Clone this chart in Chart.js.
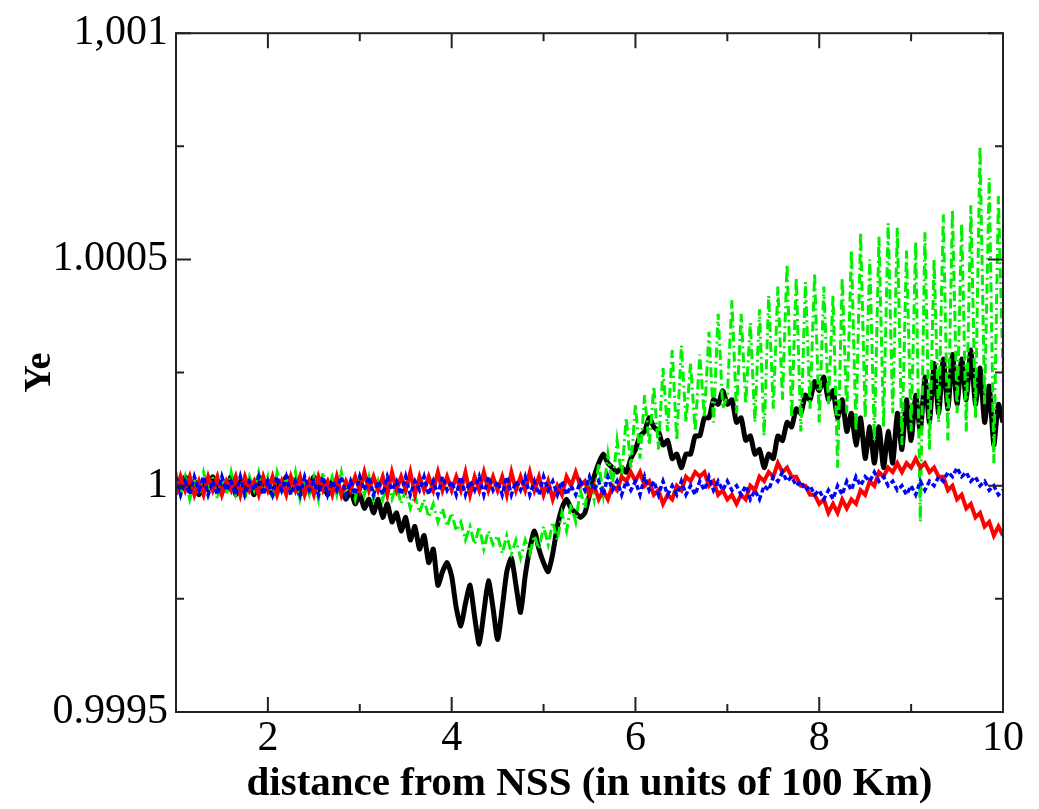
<!DOCTYPE html>
<html>
<head>
<meta charset="utf-8">
<script src="https://cdn.jsdelivr.net/npm/chart.js@4.4.0/dist/chart.umd.min.js"></script>
<style>
  html, body { margin: 0; padding: 0; background: #fff; }
  #wrap { width: 1039px; height: 809px; }
</style>
</head>
<body>
<div id="wrap"><canvas id="yeChart" width="1039" height="809"></canvas></div>
<script>
// distance from NSS (units of 100 Km)
const distance = [
  1,1.05,1.1,1.15,1.2,1.25,1.3,1.35,1.4,1.45,1.5,1.55,1.6,1.65,1.7,1.75,1.8,1.85,1.9,1.95,
  2,2.05,2.1,2.15,2.2,2.25,2.3,2.35,2.4,2.45,2.5,2.55,2.6,2.65,2.7,2.75,2.8,2.85,2.9,2.95,
  3,3.05,3.1,3.15,3.2,3.25,3.3,3.35,3.4,3.45,3.5,3.55,3.6,3.65,3.7,3.75,3.8,3.85,3.9,3.95,
  4,4.05,4.1,4.15,4.2,4.25,4.3,4.35,4.4,4.45,4.5,4.55,4.6,4.65,4.7,4.75,4.8,4.85,4.9,4.95,
  5,5.05,5.1,5.15,5.2,5.25,5.3,5.35,5.4,5.45,5.5,5.55,5.6,5.65,5.7,5.75,5.8,5.85,5.9,5.95,
  6,6.05,6.1,6.15,6.2,6.25,6.3,6.35,6.4,6.45,6.5,6.55,6.6,6.65,6.7,6.75,6.8,6.85,6.9,6.95,
  7,7.05,7.1,7.15,7.2,7.25,7.3,7.35,7.4,7.45,7.5,7.55,7.6,7.65,7.7,7.75,7.8,7.85,7.9,7.95,
  8,8.05,8.1,8.15,8.2,8.25,8.3,8.35,8.4,8.45,8.5,8.55,8.6,8.65,8.7,8.75,8.8,8.85,8.9,8.95,
  9,9.05,9.1,9.15,9.2,9.25,9.3,9.35,9.4,9.45,9.5,9.55,9.6,9.65,9.7,9.75,9.8,9.85,9.9,9.95,
  10
];

const yeBlue = [
  1.00002,0.99998,1.00001,0.99998,1.00002,0.99999,1.00002,0.99998,1.00001,0.99998,1.00002,0.99999,1.00001,0.99998,1.00002,0.99998,1.00001,0.99999,1.00002,0.99998,
  1.00001,0.99998,1.00002,0.99999,1.00002,0.99998,1.00001,0.99998,1.00002,0.99999,1.00001,0.99998,1.00002,0.99998,1.00001,0.99999,1.00002,0.99998,1.00001,0.99998,
  1.00002,0.99999,1.00002,0.99998,1.00001,0.99998,1.00002,0.99999,1.00001,0.99998,1.00002,0.99998,1.00001,0.99999,1.00002,0.99998,1.00001,0.99998,1.00002,0.99999,
  1.00001,0.99998,1.00002,0.99998,1.00001,0.99999,1.00002,0.99998,1.00002,0.99999,1.00001,0.99998,1.00002,0.99998,1.00001,0.99999,1.00002,0.99998,1.00001,0.99998,
  1.00002,0.99999,1.00001,0.99998,1.00001,0.99998,1,0.99998,1.00001,0.99999,1.00002,0.99999,1.00001,0.99998,1.00002,0.99999,1.00001,0.99998,1.00001,0.99999,
  1.00001,0.99998,1.00002,0.99999,1.00001,0.99998,1.00001,0.99998,1,0.99998,1.00001,0.99998,1,0.99998,1.00001,0.99999,1.00002,0.99999,1.00001,0.99999,
  1.00001,0.99999,1,0.99998,1,0.99997,0.99999,0.99997,1,0.99999,1.00002,1.00001,1.00003,1.00001,1.00002,1,1.00001,0.99999,1,0.99998,
  0.99999,0.99997,0.99999,0.99997,1,0.99998,1.00001,0.99999,1.00002,1,1.00002,1.00001,1.00003,1.00001,1.00002,1,1.00001,0.99999,1,0.99998,
  1,0.99998,1.00001,0.99999,1.00001,1,1.00002,1.00001,1.00003,1.00002,1.00004,1.00002,1.00003,1.00001,1.00002,1,1.00001,0.99999,1,0.99998,
  0.99999
];

const yeRed = [
  0.99998,1.00002,0.99999,1.00002,0.99998,1.00001,0.99998,1.00002,0.99999,1.00002,0.99998,1.00001,0.99999,1.00002,0.99998,1.00002,0.99999,1.00001,0.99998,1.00002,
  0.99999,1.00002,0.99998,1.00001,0.99998,1.00002,0.99999,1.00002,0.99998,1.00001,0.99998,1.00002,0.99999,1.00001,0.99998,1.00002,0.99998,1.00001,0.99999,1.00002,
  0.99999,1.00003,0.99999,1.00002,0.99999,1.00002,0.99998,1.00003,0.99999,1.00002,0.99999,1.00003,0.99998,1.00002,0.99999,1.00002,0.99999,1.00003,0.99999,1.00002,
  0.99999,1.00002,0.99999,1.00003,0.99998,1.00002,0.99999,1.00003,0.99999,1.00002,0.99999,1.00002,0.99998,1.00003,0.99999,1.00002,0.99999,1.00003,0.99999,1.00002,
  0.99998,1.00001,0.99997,1,0.99998,1.00002,1,1.00003,1,1.00001,0.99998,1,0.99997,0.99999,0.99997,1,0.99999,1.00002,1.00001,1.00003,
  1.00001,1.00003,1,1.00001,0.99998,0.99999,0.99996,0.99998,0.99997,1,0.99999,1.00002,1.00001,1.00003,1.00002,1.00003,1,1.00001,0.99998,0.99999,
  0.99997,0.99998,0.99996,0.99998,0.99997,1,0.99999,1.00002,1.00001,1.00003,1.00002,1.00005,1.00003,1.00004,1.00002,1.00002,1,1,0.99998,0.99998,
  0.99996,0.99997,0.99994,0.99996,0.99994,0.99997,0.99995,0.99997,0.99996,0.99999,0.99998,1.00001,1,1.00003,1.00002,1.00004,1.00003,1.00005,1.00003,1.00005,
  1.00004,1.00006,1.00004,1.00005,1.00003,1.00004,1.00002,1.00002,0.99999,1,0.99997,0.99998,0.99995,0.99996,0.99993,0.99994,0.99991,0.99992,0.99989,0.99991,
  0.99989
];

const yeGreen = [
  1.00003,0.99998,1.00002,0.99997,1.00001,0.99998,1.00003,0.99999,1.00002,0.99997,1.00002,0.99998,1.00003,0.99998,1.00001,0.99997,1.00002,0.99999,1.00003,0.99998,
  1.00002,0.99997,1.00003,0.99999,1.00002,0.99998,1.00003,0.99997,1.00001,0.99998,1.00002,0.99997,1.00003,0.99999,1.00002,0.99998,1.00003,0.99998,1.00001,0.99997,
  1.00002,0.99998,1.00002,0.99997,1.00001,0.99997,1.00001,0.99997,1,0.99996,0.99999,0.99995,0.99998,0.99994,0.99997,0.99993,0.99996,0.99992,0.99995,0.99991,
  0.99994,0.9999,0.99992,0.99988,0.99991,0.99987,0.99991,0.99986,0.9999,0.99987,0.99989,0.99985,0.99989,0.99985,0.99988,0.99984,0.99988,0.99985,0.99989,0.99986,
  0.99991,0.99987,0.99992,0.99988,0.99994,0.9999,0.99996,0.99992,0.99999,0.99995,1.00002,0.99997,1.00005,0.99998,1.00007,1,1.0001,1.00002,1.00015,1.00004,
  1.00018,1.00006,1.0002,1.00009,1.00022,1.00008,1.00026,1.00012,1.0003,1.0001,1.00031,1.00014,1.00027,1.00012,1.00029,1.00015,1.00034,1.00014,1.00038,1.00017,
  1.0002,1.00041,1.00016,1.00038,1.00018,1.00036,1.00014,1.00039,1.00011,1.00042,1.00017,1.00044,1.00019,1.00049,1.00015,1.00046,1.00012,1.00045,1.00017,1.00047,
  1.00014,1.00044,1.00018,1.00042,1.00004,1.00046,1.00016,1.00052,1.00012,1.00056,1.00015,1.0005,1.0001,1.00055,1.00013,1.00058,1.00016,1.00057,1.00009,1.00052,
  1.00012,1.00054,0.99992,1.00056,1.00008,1.0005,1.00014,1.0006,1.0001,1.00061,1.00016,1.00058,1.00012,1.00062,1.00015,1.00075,1.00018,1.00068,1.00005,1.00064,
  1.00025
];

const yeBlack = [
  1.00001,0.99999,1.00002,0.99999,1.00001,0.99998,1.00001,0.99999,1.00002,0.99999,1.00001,0.99999,1.00002,0.99998,1.00001,0.99999,1.00001,0.99998,1.00002,0.99999,
  1.00001,0.99998,1.00001,0.99999,1.00002,0.99999,1.00001,0.99998,1.00001,0.99999,1.00002,0.99999,1.00001,0.99998,1.00001,0.99999,0.99999,0.99997,0.99999,0.99996,
  0.99998,0.99995,0.99997,0.99994,0.99997,0.99993,0.99996,0.99992,0.99994,0.9999,0.99993,0.99988,0.99991,0.99986,0.99989,0.99983,0.99986,0.99978,0.99981,0.99983,
  0.9998,0.99973,0.99969,0.99974,0.99978,0.99971,0.99965,0.99972,0.99979,0.99973,0.99966,0.99973,0.99981,0.99984,0.99978,0.99972,0.9998,0.99986,0.9999,0.99986,
  0.99983,0.99981,0.99985,0.99991,0.99995,0.99997,0.99995,0.99994,0.99993,0.99994,0.99998,1.00002,1.00005,1.00007,1.00005,1.00004,1.00003,1.00004,1.00003,1.00006,
  1.00008,1.00011,1.00012,1.00015,1.00013,1.00012,1.00009,1.0001,1.00006,1.00007,1.00004,1.00007,1.00007,1.00011,1.00011,1.00015,1.00015,1.00019,1.00018,1.00021,
  1.00018,1.00019,1.00014,1.00015,1.0001,1.00011,1.00007,1.00008,1.00004,1.00007,1.00006,1.00011,1.0001,1.00014,1.00013,1.00017,1.00016,1.0002,1.00019,1.00023,
  1.00021,1.00024,1.00019,1.00021,1.00015,1.00019,1.00012,1.00016,1.00009,1.00015,1.00006,1.00013,1.00005,1.00013,1.00004,1.00012,1.00005,1.00016,1.00008,1.00019,
  1.0001,1.0002,1.00012,1.00024,1.00014,1.00027,1.00016,1.00028,1.00017,1.00029,1.00018,1.00028,1.00019,1.0003,1.00018,1.00026,1.00014,1.00022,1.00009,1.00018,
  1.00014
];

const xTicks = [2, 4, 6, 8, 10];
const xMinorTicks = [3, 5, 7, 9];
const yTicks = [0.9995, 1, 1.0005, 1.001];
const yTickLabels = ['0.9995', '1', '1.0005', '1,001'];
const yMinorTicks = [0.99975, 1.00025, 1.00075];

const serif = 'Liberation Serif';

function points(values) {
  return distance.map((d, i) => ({ x: d, y: values[i] }));
}

// xmgrace style box with ticks pointing inward on all four sides
const frameTicks = {
  id: 'frameTicks',
  afterDatasetsDraw(chart) {
    const { ctx, chartArea: a, scales } = chart;
    const x = scales.x, y = scales.y;
    ctx.save();
    ctx.strokeStyle = '#222';
    ctx.lineWidth = 2;
    ctx.beginPath();
    const vTick = (v, len) => {
      const p = x.getPixelForValue(v);
      ctx.moveTo(p, a.bottom); ctx.lineTo(p, a.bottom - len);
      ctx.moveTo(p, a.top); ctx.lineTo(p, a.top + len);
    };
    const hTick = (v, len) => {
      const p = y.getPixelForValue(v);
      ctx.moveTo(a.left, p); ctx.lineTo(a.left + len, p);
      ctx.moveTo(a.right, p); ctx.lineTo(a.right - len, p);
    };
    xTicks.forEach(v => vTick(v, 15));
    xMinorTicks.forEach(v => vTick(v, 8));
    yTicks.forEach(v => hTick(v, 15));
    yMinorTicks.forEach(v => hTick(v, 8));
    ctx.stroke();
    ctx.strokeRect(a.left, a.top, a.right - a.left, a.bottom - a.top);
    ctx.restore();
  }
};

const ctx = document.getElementById('yeChart').getContext('2d');

new Chart(ctx, {
  type: 'line',
  data: {
    datasets: [
      {
        data: points(yeBlue),
        borderColor: '#0000ff',
        borderWidth: 3.5,
        borderDash: [5, 3],
        pointRadius: 0
      },
      {
        data: points(yeRed),
        borderColor: '#ff0000',
        borderWidth: 4,
        pointRadius: 0
      },
      {
        data: points(yeGreen),
        borderColor: '#00f000',
        borderWidth: 3,
        borderDash: [10, 4, 2, 4],
        pointRadius: 0
      },
      {
        data: points(yeBlack),
        borderColor: '#000000',
        borderWidth: 5,
        tension: 0.2,
        pointRadius: 0
      }
    ]
  },
  options: {
    responsive: false,
    animation: false,
    layout: {
      padding: { top: 30, right: 36, left: 0, bottom: 0 }
    },
    plugins: {
      legend: { display: false },
      tooltip: { enabled: false }
    },
    scales: {
      x: {
        type: 'linear',
        min: 1,
        max: 10,
        afterBuildTicks: scale => { scale.ticks = xTicks.map(v => ({ value: v })); },
        afterFit: scale => { scale.height = 97; },
        grid: { display: false, drawTicks: false },
        border: { display: false },
        ticks: {
          color: '#000',
          padding: 2,
          maxRotation: 0,
          autoSkip: false,
          font: { family: serif, size: 42 }
        },
        title: {
          display: true,
          text: 'distance from NSS (in units of 100 Km)',
          color: '#000',
          padding: { top: 0, bottom: 0 },
          font: { family: serif, size: 41, weight: 'bold' }
        }
      },
      y: {
        type: 'linear',
        min: 0.9995,
        max: 1.001,
        afterBuildTicks: scale => { scale.ticks = yTicks.map(v => ({ value: v })); },
        afterFit: scale => { scale.width = 176; },
        grid: { display: false, drawTicks: false },
        border: { display: false },
        ticks: {
          color: '#000',
          padding: 8,
          autoSkip: false,
          font: { family: serif, size: 42 },
          callback: value => yTickLabels[yTicks.indexOf(value)]
        },
        title: {
          display: true,
          text: 'Ye',
          color: '#000',
          padding: { top: 17, bottom: 0 },
          font: { family: serif, size: 38, weight: 'bold' }
        }
      }
    }
  },
  plugins: [frameTicks]
});
</script>
</body>
</html>
